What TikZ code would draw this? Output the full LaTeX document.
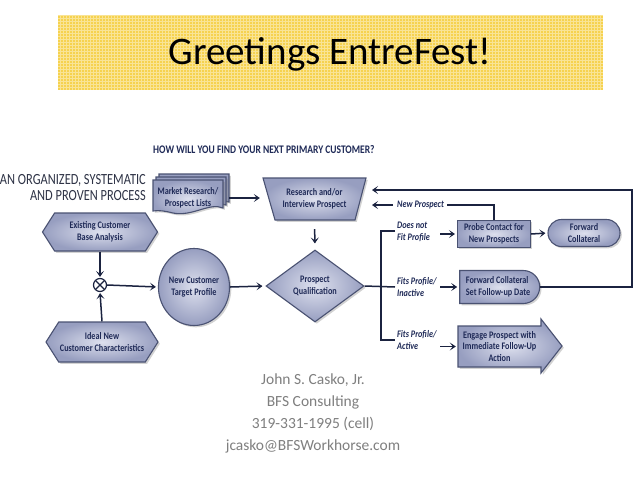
\documentclass[tikz,border=0pt]{standalone}
\usepackage{fontspec}
\setmainfont{Carlito}
\newfontfamily\cnd[FakeStretch=0.82]{Carlito}
\newfontfamily\nrw[FakeStretch=0.8]{Carlito}
\usetikzlibrary{shapes.geometric,shapes.symbols,shapes.misc,shadows,arrows.meta}
\definecolor{navy}{HTML}{1F2A57}
\definecolor{linec}{HTML}{1B2340}
\definecolor{edge}{HTML}{4A5272}
\definecolor{fillin}{HTML}{DDE0EE}
\definecolor{fillout}{HTML}{979EC0}
\definecolor{gold}{HTML}{F6D24F}
\definecolor{graytxt}{HTML}{7F7F7F}
\definecolor{lefttxt}{HTML}{2E3346}
\begin{document}
\begin{tikzpicture}[x=1pt,y=-1pt,
  box/.style={draw=edge, line width=1.1pt, inner color=fillin, outer color=fillout,
    drop shadow={opacity=0.35,shadow xshift=1.8pt,shadow yshift=-1.8pt}},
  txt/.style={font=\cnd\bfseries\fontsize{10}{11.5}\selectfont, text=navy, align=center},
  hexa/.style={box, txt, signal, signal to=east and west, signal pointer angle=115, inner sep=0pt},
  conn/.style={draw=linec, line width=1.5pt},
  arr/.style={conn, -{Stealth[length=6pt,width=8pt,inset=3pt]}},
  lbl/.style={font=\cnd\bfseries\itshape\fontsize{10}{11.5}\selectfont, text=navy, align=left, inner sep=0pt, anchor=west},
  info/.style={font=\fontsize{15.5}{18}\selectfont, text=graytxt}
]
\useasboundingbox (0,0) rectangle (640,480);
\fill[white] (0,0) rectangle (640,480);
% banner
\fill[gold] (58,15) rectangle (603,90);
\draw[white, opacity=0.4, line width=0.6pt, step=3pt] (58,15) grid (603,90);
\node[font=\fontsize{39}{42}\selectfont] (title) at (330,54) {Greetings EntreFest!};
% heading
\node[font=\cnd\bfseries\fontsize{11.6}{13}\selectfont, text=navy, anchor=west, inner sep=0pt] (head) at (153,150) {HOW WILL YOU FIND YOUR NEXT PRIMARY CUSTOMER?};
\node[font=\nrw\fontsize{15.5}{16}\selectfont, text=lefttxt, align=right, anchor=east, inner sep=0pt] (proc) at (146,188) {AN ORGANIZED, SYSTEMATIC\\AND PROVEN PROCESS};
% left column
\node[hexa, minimum width=115pt, minimum height=38pt] (ex) at (100,232) {Existing Customer\\Base Analysis};
\node[hexa, minimum width=112pt, minimum height=40pt] (id) at (102,342) {Ideal New\\Customer Characteristics};
\node[circle, draw=linec, line width=1.2pt, minimum size=13pt, inner sep=0pt, fill=white,
  path picture={\draw[linec, line width=1.2pt] (path picture bounding box.north west) -- (path picture bounding box.south east) (path picture bounding box.north east) -- (path picture bounding box.south west);}] (x) at (100,285) {};
\node[box, txt, ellipse, minimum width=66pt, minimum height=77pt, inner sep=0pt] (tp) at (194,287) {New Customer\\Target Profile};
% document stack
\foreach \d in {6,3,0}{
  \begin{scope}[shift={(\d,-\d)}]
    \path[box] (153,180) -- (223,180) -- (223,208) .. controls (210,202) and (192,217) .. (173,213) .. controls (165,211) and (159,210) .. (153,211) -- cycle;
  \end{scope}}
\node[txt, minimum width=70pt, minimum height=30pt, inner sep=0pt] (mr) at (188,198) {Market Research/\\Prospect Lists};
% trapezoid
\path[box] (263,178) -- (366,178) -- (355,220) -- (275,220) -- cycle;
\node[txt, minimum width=103pt, minimum height=42pt, inner sep=0pt] (rs) at (314.5,199) {Research and/or\\Interview Prospect};
% diamond
\node[box, txt, diamond, minimum width=98pt, minimum height=72pt, inner sep=0pt] (q) at (315,286) {Prospect\\Qualification};
% right column
\node[box, txt, rectangle, minimum width=73pt, minimum height=27pt, inner sep=0pt] (pc) at (494,234) {Probe Contact for\\New Prospects};
\node[box, txt, rounded rectangle, minimum width=72pt, minimum height=27pt, inner sep=0pt] (fc) at (584,233) {Forward\\Collateral};
\node[box, txt, rounded rectangle, rounded rectangle west arc=none, rounded rectangle arc length=180, minimum width=80pt, minimum height=33pt, inner sep=0pt, align=left] (fs) at (498,287) {Forward Collateral\\Set Follow-up Date};
\path[box] (458,326) -- (541,326) -- (541,319) -- (562,346) -- (541,373) -- (541,367) -- (458,367) -- cycle;
\node[txt, minimum width=83pt, minimum height=41pt, inner sep=0pt] (en) at (499.5,346.5) {Engage Prospect with\\Immediate Follow-Up\\Action};
% labels
\node[lbl] (l1) at (397,232) {Does not\\Fit Profile};
\node[lbl] (l2) at (397,287) {Fits Profile/\\Inactive};
\node[lbl] (l3) at (397,340) {Fits Profile/\\Active};
\node[lbl] (np) at (397,205) {New Prospect};
% connectors
\draw[arr, shorten <=6pt, shorten >=3pt] (mr.east) -- (rs.west |- mr.east);
\draw[arr, shorten <=9pt, shorten >=6pt] (rs.south) -- (q.north);
\draw[arr, shorten >=1pt] (ex.south) -- (x.north);
\draw[arr, shorten >=1pt] (id.north) -- (x.south);
\draw[arr, shorten >=2pt] (x.east) -- (tp.west);
\draw[arr, shorten >=3pt] (tp.east) -- (q.west);
\coordinate (bt) at (381,231);
\coordinate (bb) at (381,340);
\draw[conn] (q.east) -- ([xshift=-2pt]l2.west);
\draw[conn] ([xshift=-2pt]l1.west |- bt) -- (bt) -- (bb) -- ([xshift=-2pt]l3.west |- bb);
\draw[arr, shorten >=2pt] ([xshift=43pt]l1.west |- pc.west) -- (pc.west);
\draw[arr, shorten >=2pt] ([xshift=43pt]l2.west |- fs.west) -- (fs.west);
\draw[arr, shorten >=2pt] ([xshift=43pt]l3.west |- en.west) -- (en.west);
\draw[arr, shorten >=2pt] (pc.east) -- (fc.west);
\coordinate (npt) at (372,205);
\coordinate (rt) at (372,190);
\coordinate (rc) at (632,190);
\draw[conn] (pc.north) |- ([xshift=3pt]np.east);
\draw[arr] ([xshift=-4pt]np.west) -- (npt);
\draw[arr] (fs.east) -| (rc) -- (rt);
% contact
\node[info] (n1) at (313,380) {John S. Casko, Jr.};
\node[info] (n2) at (313,402) {BFS Consulting};
\node[info] (n3) at (313,424) {319-331-1995 (cell)};
\node[info] (n4) at (313,446) {jcasko@BFSWorkhorse.com};
\end{tikzpicture}
\end{document}
